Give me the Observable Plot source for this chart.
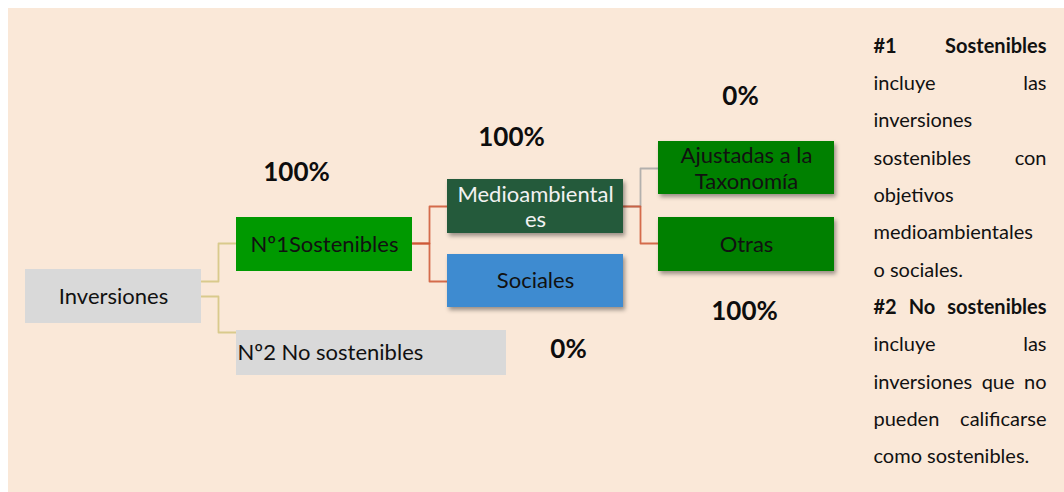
<!DOCTYPE html>
<html>
<head>
<meta charset="utf-8">
<script src="https://cdn.jsdelivr.net/npm/d3@7"></script>
<script src="https://cdn.jsdelivr.net/npm/@observablehq/plot@0.6"></script>
<style>
  html, body { margin: 0; padding: 0; background: #ffffff; overflow: hidden; }
  #wrap { padding: 8px 0 0 8px; }
  g[aria-description="shadow"] { filter: blur(2px); }
</style>
</head>
<body>
<div id="wrap"></div>
<script>
// ---------------- DATA ----------------
const nodes = ["Inversiones", "Nº1Sostenibles", "Nº2 No sostenibles", "Medioambientales", "Sociales", "Ajustadas a la Taxonomía", "Otras"];
const nodeLabels = ["Inversiones", "Nº1Sostenibles", "Nº2 No sostenibles", "Medioambiental\nes", "Sociales", "Ajustadas a la\nTaxonomía", "Otras"];
const nodeParents = [null, "Inversiones", "Inversiones", "Nº1Sostenibles", "Nº1Sostenibles", "Medioambientales", "Medioambientales"];
const nodeShares = [null, 100, 0, 100, null, 0, 100]; // % shown next to each node
const noteHeads = ["#1 Sostenibles", "#2 No sostenibles"];
const noteBodies = [
  ["incluye las", "inversiones", "sostenibles con", "objetivos", "medioambientales", "o sociales."],
  ["incluye las", "inversiones que no", "pueden calificarse", "como sostenibles."]
];

// ---------------- LAYOUT / STYLE ----------------
const FONT = "Lato";
const layout = {
  "Inversiones":              {x1: 25,  x2: 201, y1: 269, y2: 323, fill: "#d9d9d9", ink: "#111111"},
  "Nº1Sostenibles":           {x1: 236, x2: 412, y1: 217, y2: 271, fill: "#009900", ink: "#111111", outY: 281, inY: 243, link: "#d2c47f"},
  "Nº2 No sostenibles":       {x1: 236, x2: 506, y1: 330, y2: 375, fill: "#d9d9d9", ink: "#111111", outY: 296, inY: 332, link: "#d2c47f", left: true},
  "Medioambientales":         {x1: 447, x2: 623, y1: 179, y2: 233, fill: "#245a3b", ink: "#f2f2f2", outY: 243, inY: 206, link: "#cc5533", shadow: true, two: true},
  "Sociales":                 {x1: 447, x2: 623, y1: 254, y2: 307, fill: "#3e8bd0", ink: "#111111", outY: 243, inY: 281, link: "#cc5533", shadow: true},
  "Ajustadas a la Taxonomía": {x1: 658, x2: 834, y1: 141, y2: 194, fill: "#008000", ink: "#111111", outY: 206, inY: 168, link: "#a6a6a6", shadow: true, two: true},
  "Otras":                    {x1: 658, x2: 834, y1: 217, y2: 271, fill: "#008000", ink: "#111111", outY: 206, inY: 243, link: "#cc5533", shadow: true}
};
const shareAt = {
  "Nº1Sostenibles": [296, 180],
  "Nº2 No sostenibles": [568, 357],
  "Medioambientales": [511, 145],
  "Ajustadas a la Taxonomía": [740, 104],
  "Otras": [744, 319]
};
const note = {left: 873, right: 1046, top: 52, step: 37.36, size: 20};

// ---------------- BUILD ----------------
const boxes = nodes.map((n, i) => ({name: n, label: nodeLabels[i], parent: nodeParents[i], share: nodeShares[i], ...layout[n]}));
const byName = Object.fromEntries(boxes.map(b => [b.name, b]));

const links = [];
boxes.filter(b => b.parent).forEach(b => {
  const p = byName[b.parent];
  const ex = p.x2 + 17;
  [[p.x2, b.outY], [ex, b.outY], [ex, b.inY], [b.x1, b.inY]].forEach(([x, y]) =>
    links.push({id: b.name, x, y, color: b.link}));
});

const shares = boxes.filter(b => b.share != null && shareAt[b.name])
  .map(b => ({x: shareAt[b.name][0], y: shareAt[b.name][1], text: b.share + "%"}));

// justified note words
const ctx = document.createElement("canvas").getContext("2d");
const measure = (t, bold) => { ctx.font = `${bold ? "bold " : ""}${note.size}px ${FONT}`; return ctx.measureText(t).width; };
const noteWords = [];
let row = 0;
noteHeads.forEach((head, pi) => {
  const lines = [{t: head, bold: true}, ...noteBodies[pi].map(t => ({t, bold: false}))];
  lines.forEach((ln, li) => {
    const words = ln.t.split(" ");
    const ws = words.map(w => measure(w, ln.bold));
    const justify = li < lines.length - 1 && words.length > 1;
    const gap = justify ? (note.right - note.left - d3.sum(ws)) / (words.length - 1) : measure(" ", ln.bold);
    let x = note.left;
    words.forEach((w, wi) => {
      noteWords.push({x, y: note.top + row * note.step, text: w, bold: ln.bold});
      x += ws[wi] + gap;
    });
    row++;
  });
});

const centerX = b => (b.x1 + b.x2) / 2;
const centerY = b => (b.y1 + b.y2) / 2;

const chart = Plot.plot({
  width: 1056,
  height: 484,
  margin: 0,
  x: {domain: [8, 1064], range: [0, 1056], axis: null},
  y: {domain: [8, 492], range: [0, 484], axis: null},
  color: {type: "identity"},
  style: {background: "#fae8d8", fontFamily: FONT, overflow: "visible"},
  marks: [
    Plot.line(links, {x: "x", y: "y", z: "id", stroke: "color", strokeWidth: 1.8, strokeOpacity: 0.85}),
    Plot.rect(boxes.filter(b => b.shadow), {x1: d => d.x1 + 2, x2: d => d.x2 + 2, y1: d => d.y1 + 3, y2: d => d.y2 + 3, fill: "#000000", fillOpacity: 0.38, ariaDescription: "shadow"}),
    Plot.rect(boxes, {x1: "x1", x2: "x2", y1: "y1", y2: "y2", fill: "fill"}),
    Plot.text(boxes.filter(b => !b.left && !b.two), {x: centerX, y: centerY, text: "label", fill: "ink", fontSize: 22, lineAnchor: "middle"}),
    Plot.text(boxes.filter(b => b.two), {x: centerX, y: centerY, text: "label", fill: "ink", fontSize: 22, lineAnchor: "middle", lineHeight: 1.16}),
    Plot.text(boxes.filter(b => b.left), {x: d => d.x1 + 1, y: centerY, text: "label", fill: "ink", fontSize: 22, textAnchor: "start", lineAnchor: "middle"}),
    Plot.text(shares, {x: "x", y: "y", text: "text", fontSize: 26, fontWeight: "bold", fill: "#0d0d0d", lineAnchor: "bottom"}),
    Plot.text(noteWords.filter(d => d.bold), {x: "x", y: "y", text: "text", fontSize: note.size, fontWeight: "bold", fill: "#111111", textAnchor: "start", lineAnchor: "bottom"}),
    Plot.text(noteWords.filter(d => !d.bold), {x: "x", y: "y", text: "text", fontSize: note.size, fill: "#111111", textAnchor: "start", lineAnchor: "bottom"})
  ]
});
document.getElementById("wrap").appendChild(chart);
</script>
</body>
</html>
